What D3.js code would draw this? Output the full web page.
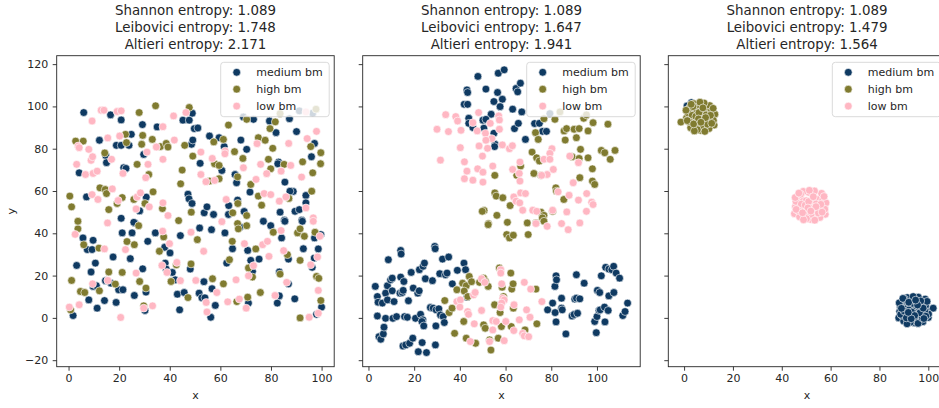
<!DOCTYPE html>
<html>
<head>
<meta charset="utf-8">
<script src="https://cdn.jsdelivr.net/npm/d3@7"></script>
<style>
  body { margin: 0; background: #fff; }
  svg { display: block; font-family: "DejaVu Sans", sans-serif; }
</style>
</head>
<body>
<svg id="chart" width="939" height="408"></svg>
<script>
// categories and their colours (legend order)
const categories = ['medium bm', 'high bm', 'low bm'];
const colors = ['#0f3a62', '#807b30', '#ffb7c3'];

const titles = [
  ['Shannon entropy: 1.089', 'Leibovici entropy: 1.748', 'Altieri entropy: 2.171'],
  ['Shannon entropy: 1.089', 'Leibovici entropy: 1.647', 'Altieri entropy: 1.941'],
  ['Shannon entropy: 1.089', 'Leibovici entropy: 1.479', 'Altieri entropy: 1.564']
];
const xTicks = [0, 20, 40, 60, 80, 100];
const yTicks = [-20, 0, 20, 40, 60, 80, 100, 120];

// panel 1 : uniform spread
const p1Medium = [[6.0,97.1],[16.6,96.0],[20.8,93.6],[35.0,90.3],[45.2,93.5],[47.7,93.5],[48.9,96.8],[49.7,89.5],[51.1,89.8],[29.2,91.4],[69.1,95.0],[73.1,93.9],[79.4,93.1],[87.3,94.2],[82.0,87.6],[90.1,88.1],[91.2,97.9],[96.5,96.8],
  [12.2,84.0],[24.8,86.8],[18.9,81.6],[20.8,81.6],[23.9,81.6],[48.6,82.1],[49.1,84.1],[55.7,86.0],[59.5,85.2],[61.5,81.0],[68.1,84.1],[70.4,79.7],[83.0,73.7],[82.7,72.9],[97.2,82.5],[96.0,76.2],
  [4.2,68.6],[14.7,76.8],[15.0,73.4],[21.8,71.0],[22.7,70.7],[29.7,77.3],[52.0,73.1],[60.6,69.7],[65.8,67.8],[66.4,63.9],[71.7,59.5],[85.5,64.2],[88.8,59.8],
  [7.1,57.2],[20.8,47.1],[26.2,44.9],[28.1,50.6],[30.7,57.1],[47.2,58.5],[47.6,56.3],[48.8,54.1],[53.6,49.7],[54.7,52.5],[57.3,48.9],[63.3,53.1],[63.2,48.9],[66.8,55.7],[69.4,50.3],[83.6,50.0],[85.3,46.2],[87.5,59.9],[89.5,50.4],[91.2,51.2],[92.2,46.2],[93.8,57.9],[93.8,54.4],
  [5.7,37.8],[7.4,32.3],[9.3,32.3],[9.7,36.7],[3.2,24.8],[8.9,21.7],[10.6,25.9],[8.0,8.5],[9.7,14.9],[11.0,15.2],[1.8,1.1],[11.3,4.6],[14.6,17.6],[14.2,8.2],[16.8,16.4],[17.6,28.8],[18.8,7.3],[19.8,13.3],[21.5,13.3],[21.2,40.2],[25.1,40.2],[24.4,28.0],[26.0,10.6],[29.3,23.2],[25.8,45.2],[30.2,3.5],[30.6,12.2],[31.3,36.2],[34.3,40.2],[38.0,33.4],[38.2,25.9],[38.6,23.1],[40.1,30.7],[41.0,21.5],[42.2,18.0],[43.0,11.2],[44.2,38.9],[43.9,3.8],[45.7,12.0],[48.1,23.1],[51.6,11.7],[51.8,42.5],[53.5,17.1],[52.7,9.5],[53.9,9.5],[56.2,0.3],[56.5,41.7],[56.7,13.8],[58.0,5.9],[61.8,40.2],[62.5,25.9],[64.8,32.7],[67.8,43.0],[70.8,31.9],[71.1,7.0],[72.0,27.2],[72.7,22.0],[75.3,27.8],[77.0,45.7],[79.9,43.6],[82.5,7.0],[83.3,10.4],[83.3,21.7],[84.2,37.8],[85.5,45.7],[86.9,16.1],[86.9,27.8],[89.4,9.0],[92.4,45.7],[92.8,32.7],[96.3,23.9],[97.1,28.3],[97.2,37.8],[98.0,1.7],[98.7,32.6],[100.0,5.1],[99.7,39.4]];
const p1High = [[27.9,97.1],[34.4,100.3],[47.7,99.5],[70.4,93.9],[81.7,92.7],[79.6,89.5],[83.6,96.6],[97.8,98.7],[63.2,91.2],
  [2.8,83.6],[5.8,83.6],[22.5,86.8],[22.9,82.9],[29.3,86.3],[28.9,82.1],[33.1,84.4],[36.3,81.0],[38.6,82.5],[39.3,80.8],[45.9,81.6],[49.1,76.5],[57.4,83.2],[61.2,84.4],[65.6,78.6],[68.9,75.4],[75.0,85.2],[77.7,84.0],[80.7,80.2],[79.0,75.0],[92.5,73.8],[95.7,81.0],[99.7,78.1],[99.6,72.9],
  [14.3,78.0],[27.1,72.6],[31.7,67.8],[57.7,72.9],[59.5,72.1],[44.9,69.9],[66.8,66.7],[72.0,63.1],[79.9,70.5],[85.2,72.6],[96.1,59.9],[96.5,68.6],
  [0.5,57.6],[1.2,52.5],[12.4,61.5],[14.5,60.7],[15.0,58.8],[15.9,51.2],[21.2,56.9],[19.2,54.1],[25.8,56.0],[30.2,54.1],[33.4,59.6],[37.1,51.7],[44.3,63.4],[48.5,50.0],[55.7,64.7],[59.5,65.8],[64.9,49.7],[66.9,54.1],[70.4,48.4],[75.0,57.6],[76.3,53.3],[87.1,56.5],
  [3.7,42.1],[3.7,45.7],[6.0,34.6],[1.2,17.7],[12.0,33.0],[4.7,12.5],[6.4,12.0],[0.8,3.8],[12.2,12.8],[15.9,21.7],[18.5,16.0],[21.2,21.5],[23.1,36.1],[26.0,34.6],[28.1,17.2],[27.7,43.6],[29.7,5.7],[30.6,14.1],[35.9,31.5],[37.6,38.3],[40.5,17.2],[42.6,25.1],[43.5,46.0],[47.2,9.6],[48.4,25.5],[50.9,37.0],[56.9,18.5],[61.2,16.1],[63.6,27.5],[64.7,36.2],[66.8,44.6],[67.1,42.1],[66.5,7.7],[70.4,43.6],[70.8,9.8],[71.1,23.6],[72.7,19.3],[74.0,32.6],[75.8,12.0],[80.9,40.5],[83.6,20.7],[86.5,29.9],[90.5,40.2],[91.5,42.1],[91.5,27.2],[93.2,38.6],[91.5,0.0],[97.4,40.5],[98.0,19.6],[98.9,18.7],[99.7,8.2]];
const p1Low = [[9.3,93.1],[12.9,98.2],[14.0,98.2],[19.2,97.6],[20.8,97.9],[37.3,90.4],[41.5,95.5],[46.4,97.1],[93.8,97.4],[98.0,88.2],
  [3.8,81.3],[4.2,80.5],[15.5,85.1],[20.2,86.0],[34.7,80.8],[41.8,84.1],[61.9,78.9],[61.8,77.6],[74.5,82.4],[87.0,82.5],[94.3,84.8],
  [3.2,72.6],[6.7,67.8],[8.0,79.7],[8.9,74.5],[9.5,76.2],[9.7,68.3],[11.3,69.4],[17.0,75.0],[21.5,68.3],[31.0,78.4],[31.4,72.6],[30.5,66.3],[37.3,75.0],[52.3,78.4],[56.8,75.4],[52.3,67.8],[69.1,71.0],[74.1,65.5],[75.9,72.6],[78.3,68.2],[84.0,69.4],[87.8,72.1],[92.1,66.6],
  [9.3,58.3],[11.6,56.0],[17.3,61.0],[19.6,55.5],[26.7,51.5],[27.1,57.2],[28.4,59.1],[31.9,52.5],[37.3,54.4],[39.3,48.4],[54.3,64.4],[57.7,65.0],[62.3,56.0],[77.3,58.8],[79.9,58.3],[83.3,55.2],[85.9,57.2],[93.8,52.0],[96.7,47.3],
  [2.6,39.5],[14.2,32.6],[9.5,16.1],[4.2,6.2],[0.3,5.1],[15.5,17.7],[15.4,44.9],[22.5,32.3],[26.7,21.2],[29.7,4.6],[33.2,5.7],[37.2,41.0],[36.9,24.8],[38.9,21.5],[39.9,35.1],[42.8,26.2],[44.2,17.6],[48.4,40.5],[50.3,17.7],[53.4,31.5],[54.4,7.3],[54.7,2.8],[58.6,12.0],[60.6,45.5],[62.9,7.6],[67.5,8.9],[66.2,18.0],[69.5,35.1],[70.2,4.6],[71.1,19.9],[73.1,24.7],[76.7,34.6],[78.6,36.2],[79.2,29.1],[81.6,10.6],[84.0,41.3],[85.0,31.8],[86.2,16.8],[95.1,0.3],[95.7,25.1],[96.7,45.7],[98.7,2.2],[98.4,28.8],[98.7,13.0],[99.3,38.6],[20.6,0.2]];

// panel 2 : loose clusters
const p2Medium = [[47.9,114.2],[56.8,115.7],[59.4,117.3],[43.1,107.8],[43.4,106.6],[51.4,108.2],[56.5,106.6],[58.6,103.4],[54.9,102.3],[57.6,99.9],[41.9,101.0],[43.4,101.0],[64.6,108.5],[65.3,106.9],[66.5,111.0],[63.1,98.7],[67.1,97.4],[43.9,94.4],[43.9,92.0],[53.7,96.3],[50.1,93.5],[51.4,93.9],[45.7,90.0],[50.5,89.7],[54.9,87.3],[63.9,89.5],[65.6,92.0],[72.7,91.9],[74.8,92.0],[76.2,88.2],[77.9,88.2],[68.7,84.4],[55.4,82.1],[55.2,81.0],[79.4,96.6],
  [3.0,14.9],[3.9,10.1],[3.9,0.9],[4.2,7.4],[6.1,7.0],[4.6,-8.9],[5.4,-10.1],[6.5,-7.6],[6.8,-4.4],[7.5,-0.2],[7.5,11.7],[8.3,15.2],[8.3,8.5],[8.7,27.5],[9.7,18.0],[10.4,18.8],[10.4,12.8],[11.2,7.7],[10.7,-0.2],[12.3,0.6],[14.1,31.9],[14.3,30.2],[14.1,19.3],[13.8,11.7],[14.8,12.0],[15.5,17.2],[15.2,13.0],[15.8,0.6],[15.1,-13.3],[16.3,-12.8],[17.5,8.1],[18.7,21.5],[17.0,0.3],[18.0,-12.0],[19.4,-9.6],[19.6,14.1],[20.6,-0.2],[21.6,11.7],[22.2,12.8],[21.8,-16.0],[22.3,22.8],[22.8,1.7],[23.8,-0.9],[23.4,-1.7],[23.5,-11.7],[23.9,24.4],[24.5,25.9],[24.2,-3.8],[24.9,18.5],[25.4,-16.4],[27.1,4.9],[28.3,4.6],[28.0,17.6],[29.0,33.8],[29.2,32.7],[29.5,-3.8],[29.3,-12.8],[29.6,3.8],[30.8,4.3],[31.2,20.9],[31.5,1.4],[32.7,0.6],[32.4,27.8],[33.2,-2.2],[33.7,20.4],[34.4,21.2],[35.1,28.8],[36.7,16.1],[38.9,22.5],[41.8,25.9],[42.5,22.8],[43.1,9.8],
  [78.4,3.8],[80.6,7.0],[81.6,14.9],[82.1,19.9],[82.3,18.0],[81.7,2.5],[82.1,-1.9],[84.5,4.6],[84.5,9.3],[84.8,3.8],[86.4,-7.6],[89.1,0.9],[90.0,1.6],[90.3,8.9],[91.0,9.3],[91.5,2.2],[91.0,20.4],[92.5,9.0],[94.4,16.4],[99.0,-1.7],[100.0,0.6],[99.7,-7.0],[100.2,13.0],[101.2,12.0],[100.9,3.5],[101.4,3.8],[101.9,19.9],[103.5,-1.9],[103.3,5.1],[103.8,23.9],[104.9,3.5],[105.2,23.1],[105.2,10.4],[106.5,22.8],[107.3,24.4],[107.4,12.0],[108.4,21.2],[109.9,18.8],[111.3,1.1],[112.3,3.0],[113.4,7.0]];
const p2High = [[76.8,94.2],[81.6,93.9],[83.8,97.4],[94.2,94.4],[95.4,96.0],[98.3,92.3],[104.8,91.6],[73.1,87.6],[74.3,84.4],[85.6,88.4],[86.7,89.5],[90.0,89.2],[92.2,89.5],[96.1,88.4],[91.0,85.2],[86.1,84.1],[92.8,79.7],[71.6,78.4],[73.6,75.7],[74.8,74.2],[89.1,76.2],[92.2,75.4],[96.1,75.7],[101.9,79.2],[103.4,78.1],[107.9,79.2],[105.8,75.0],[98.0,70.5],[66.6,71.8],[55.3,67.4],[64.9,67.4],[72.4,68.3],[75.5,67.4],[92.5,66.3],[98.0,64.7],[99.0,63.1],[55.3,59.1],[55.9,57.6],[58.8,56.8],[82.0,61.5],[82.3,59.9],[85.5,56.0],[50.6,50.8],[49.8,50.4],[56.2,48.5],[62.0,53.1],[75.5,50.0],[76.8,48.5],[76.1,47.3],[80.6,50.4],[69.5,44.9],[73.3,44.9],[52.5,44.6],[52.4,44.1],[60.8,45.2],[76.8,45.7],[60.5,39.4],[61.7,37.8],[63.4,39.1],[69.9,39.4],
  [33.4,8.2],[35.3,2.5],[36.6,4.6],[37.7,-7.3],[38.7,13.3],[41.2,16.4],[42.8,15.2],[41.9,12.7],[41.7,-1.7],[42.8,-9.6],[44.1,19.6],[45.1,17.1],[43.5,10.1],[46.9,-12.0],[48.6,16.8],[50.4,18.8],[51.2,17.2],[52.4,14.9],[50.4,-3.3],[51.1,-4.9],[53.0,-10.4],[53.6,-15.2],[55.2,6.2],[56.8,-9.6],[57.3,23.6],[57.6,2.5],[58.2,-4.1],[58.5,14.5],[59.1,10.1],[62.3,21.2],[62.7,13.6],[63.3,16.1],[63.4,4.6],[62.5,-4.1],[68.5,-5.7],[73.3,13.6],[73.7,-2.8]];
const p2Low = [[33.8,96.1],[38.2,95.2],[39.0,93.1],[30.0,89.2],[35.0,88.1],[40.5,88.7],[48.2,97.1],[45.7,92.3],[47.6,88.4],[53.3,92.0],[57.0,95.5],[57.3,93.6],[57.3,89.2],[51.2,87.3],[54.0,84.8],[51.4,84.0],[48.4,81.3],[52.1,80.2],[40.2,80.5],[49.9,76.5],[58.6,81.8],[61.7,80.0],[63.0,81.4],[31.5,74.6],[42.0,73.8],[43.1,69.4],[47.8,70.5],[50.1,68.9],[54.4,71.8],[42.0,65.8],[45.7,65.1],[50.1,64.2],[63.1,70.2],[66.3,73.7],[66.0,68.3],[66.3,64.7],[80.3,80.0],[79.4,77.8],[76.8,75.0],[79.4,75.0],[88.1,76.5],[91.9,73.4],[80.9,70.2],[78.2,67.8],[75.8,67.4],[89.6,63.9],[63.6,57.2],[66.6,59.1],[68.7,58.8],[64.6,55.2],[66.2,54.4],[67.5,50.9],[83.0,59.6],[87.8,58.0],[91.9,55.7],[95.5,58.8],[97.7,54.7],[98.3,53.6],[71.9,50.9],[73.6,50.4],[80.6,50.9],[86.8,50.1],[95.4,50.4],[78.2,43.3],[84.5,44.6],[92.5,44.9],[87.4,41.7],[73.3,44.6],
  [38.7,7.7],[40.2,8.5],[40.0,5.1],[43.4,3.0],[43.8,1.7],[44.6,-11.2],[46.0,10.9],[46.7,12.0],[46.3,-2.8],[49.5,3.5],[49.5,18.5],[50.9,16.8],[53.0,-11.2],[54.4,-1.3],[55.9,-1.7],[54.4,-5.7],[57.9,22.8],[57.9,21.2],[58.3,16.1],[58.8,9.3],[59.4,8.5],[58.3,7.0],[57.9,5.1],[60.1,-1.7],[59.4,-10.8],[63.7,6.2],[63.6,-6.0],[66.0,-0.9],[67.5,-7.3],[68.2,-8.5],[68.2,16.8],[69.2,3.8],[70.1,-8.9],[70.7,0.3],[71.0,13.6],[75.9,7.7]];

// panel 3 : tight clusters
const p3Medium = [[1.2,100.2],[3.0,101.8],
  [94.0,3.5],[90.8,6.3],[97.2,6.6],[88.3,3.1],[99.6,3.4],[91.5,-1.0],[96.1,-0.7],[93.6,9.3],[89.4,8.0],[98.7,8.9],[87.9,0.0],[100.0,0.2],[90.5,1.8],[95.0,5.2],[92.5,5.9],[97.4,1.6],[94.3,-2.3],[89.9,-1.5],[98.9,5.8],[91.4,9.6],[95.9,9.8],[88.5,5.6],[102.0,4.6],[92.9,0.9],[94.9,2.2],[90.6,4.2],[97.8,-1.8],[93.8,10.1],[88.1,7.1],[96.5,4.3],[92.1,3.8],[94.6,0.4],[99.5,7.8],[89.2,1.2],[95.8,-2.6],[92.6,-2.1],[100.1,1.8],[90.2,8.9],[93.5,6.9],[97.5,0.0],[88.7,1.7],[98.5,3.2],[91.3,-2.8],[95.3,7.6],[89.6,9.2],[93.2,2.8],[96.6,2.4],[99.0,0.8],[91.0,0.0],[94.4,1.1],[92.0,7.4],[96.9,8.0],[90.0,3.3],[97.9,4.6],[93.0,-0.4],[95.6,6.1],[91.8,2.6],[98.2,-0.3],[94.8,8.4],[89.0,4.5]];
const p3High = [[6.3,95.0],[3.1,97.8],[9.4,98.2],[1.0,94.6],[11.6,94.9],[4.5,90.1],[8.7,90.3],[6.0,100.6],[2.2,99.3],[10.5,100.4],[-1.3,92.6],[12.3,91.2],[3.8,93.4],[7.9,96.7],[5.2,97.4],[9.9,93.0],[6.8,88.7],[2.7,89.9],[11.1,97.6],[4.0,101.3],[8.2,101.6],[1.6,96.9],[12.6,96.3],[5.7,92.2],[7.4,93.8],[3.3,95.8],[10.2,89.5],[6.5,102.0],[0.8,98.2],[9.0,96.0],[4.8,95.3],[7.0,90.9],[11.9,99.1],[2.0,92.8],[8.5,88.2],[5.4,89.0],[12.0,93.4],[3.6,99.9],[6.1,97.1],[9.6,91.6],[1.3,93.3],[10.8,95.8],[4.2,88.4],[7.7,99.3],[2.9,101.0],[5.9,94.1],[8.8,94.7],[11.3,92.0],[3.9,91.7],[6.9,92.5]];
const p3Low = [[51.5,53.0],[48.2,55.8],[54.9,56.1],[45.6,52.6],[57.5,52.9],[49.1,48.1],[53.8,48.4],[51.0,59.4],[46.5,57.6],[56.3,58.9],[45.2,49.3],[57.8,49.0],[47.9,51.0],[52.7,54.7],[50.0,55.4],[55.2,51.1],[51.8,46.6],[47.3,47.8],[56.7,55.6],[48.8,59.8],[53.4,60.0],[45.8,55.1],[58.1,54.4],[50.4,50.2],[52.5,51.8],[48.0,53.8],[55.6,47.5],[51.3,60.3],[45.5,56.9],[54.1,53.9],[49.6,53.3],[52.0,48.9],[57.3,57.4],[46.6,50.8],[53.5,46.2],[50.1,46.9],[57.6,51.4],[47.7,58.5],[51.0,55.0],[55.0,49.6],[45.9,51.3],[56.0,53.7],[48.9,46.4],[52.9,57.3],[47.0,59.0],[50.7,52.0],[54.0,52.6],[56.5,50.0],[48.5,49.7],[51.9,50.5]];

const panelsData = [
  [p1Medium, p1High, p1Low],
  [p2Medium, p2High, p2Low],
  [p3Medium, p3High, p3Low]
];

// layout
const axLeft = [56.7, 362.7, 668.3];
const axW = 277.5;
const axTop = 55.7;
const axBottom = 366.7;
const textColor = '#262626';

const svg = d3.select('#chart');

// matplotlib style 5% margins
const pad = ([lo, hi]) => {
  const m = (hi - lo) * 0.05;
  return [lo - m, hi + m];
};

const allPoints = panelsData.flat(2);
const y = d3.scaleLinear()
  .domain(pad(d3.extent(allPoints, d => d[1])))
  .range([axBottom, axTop]);

panelsData.forEach((series, pi) => {
  const left = axLeft[pi];
  const pts = series.flat();
  const x = d3.scaleLinear()
    .domain(pad(d3.extent(pts, d => d[0])))
    .range([left, left + axW]);

  const g = svg.append('g');

  // points, medium first then high then low
  series.forEach((s, ci) => {
    g.append('g').selectAll('circle')
      .data(s)
      .join('circle')
      .attr('cx', d => x(d[0]))
      .attr('cy', d => y(d[1]))
      .attr('r', 3.9)
      .attr('fill', colors[ci])
      .attr('stroke', '#fff')
      .attr('stroke-width', 0.6);
  });

  // axes
  const xAxis = g.append('g')
    .attr('transform', `translate(0,${axBottom})`)
    .call(d3.axisBottom(x).tickValues(xTicks).tickSize(4).tickPadding(4));
  const yAxis = g.append('g')
    .attr('transform', `translate(${left},0)`)
    .call(d3.axisLeft(y).tickValues(yTicks).tickSize(4).tickPadding(4.5)
      .tickFormat(pi === 0 ? d => (d < 0 ? '\u2212' + Math.abs(d) : d) : () => ''));
  [xAxis, yAxis].forEach(a => {
    a.select('.domain').remove();
    a.selectAll('line').attr('stroke', textColor).attr('stroke-width', 0.9);
    a.selectAll('text').attr('fill', textColor).style('font-size', '11px')
      .style('font-family', '"DejaVu Sans", sans-serif');
  });

  // spines
  g.append('rect')
    .attr('x', left)
    .attr('y', axTop)
    .attr('width', axW)
    .attr('height', axBottom - axTop)
    .attr('fill', 'none')
    .attr('stroke', textColor)
    .attr('stroke-width', 0.9);

  // title
  const cx = left + axW / 2;
  titles[pi].forEach((t, li) => {
    g.append('text')
      .attr('x', cx)
      .attr('y', 15.3 + li * 16.8)
      .attr('text-anchor', 'middle')
      .attr('fill', textColor)
      .style('font-size', '13.4px')
      .text(t);
  });

  // axis labels
  g.append('text')
    .attr('x', cx)
    .attr('y', 399)
    .attr('text-anchor', 'middle')
    .attr('fill', textColor)
    .style('font-size', '11px')
    .text('x');
  if (pi === 0) {
    g.append('text')
      .attr('transform', `translate(15,${(axTop + axBottom) / 2}) rotate(-90)`)
      .attr('text-anchor', 'middle')
      .attr('fill', textColor)
      .style('font-size', '11px')
      .text('y');
  }

  // legend
  const lgW = 108.5, lgH = 54.4;
  const lg = g.append('g')
    .attr('transform', `translate(${left + axW - lgW - 5},${axTop + 6.6})`);
  lg.append('rect')
    .attr('width', lgW)
    .attr('height', lgH)
    .attr('rx', 3)
    .attr('fill', '#fff')
    .attr('fill-opacity', 0.8)
    .attr('stroke', '#d6d6d6')
    .attr('stroke-width', 0.9);
  categories.forEach((c, ci) => {
    const ry = 10 + ci * 16.9;
    lg.append('circle')
      .attr('cx', 16)
      .attr('cy', ry)
      .attr('r', 3.9)
      .attr('fill', colors[ci])
      .attr('stroke', '#fff')
      .attr('stroke-width', 0.6);
    lg.append('text')
      .attr('x', 35.5)
      .attr('y', ry + 4)
      .attr('fill', textColor)
      .style('font-size', '11px')
      .text(c);
  });
});
</script>
</body>
</html>
